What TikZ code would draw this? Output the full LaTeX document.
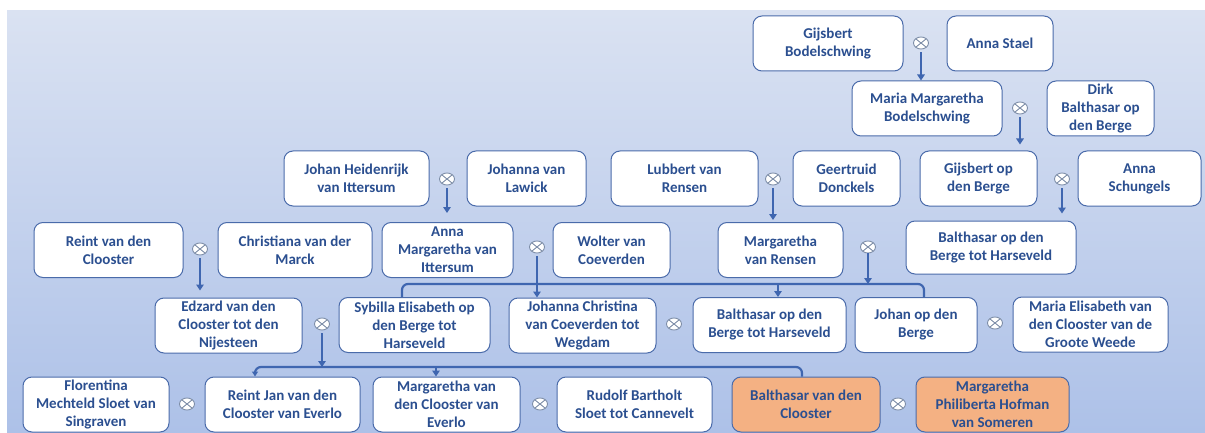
\documentclass[tikz,border=0pt]{standalone}
\usepackage{fontspec}
\setmainfont{Carlito}
\usetikzlibrary{shapes.geometric, arrows.meta}

\definecolor{txtblue}{HTML}{2B4F90}
\definecolor{boxline}{HTML}{4A6BAA}
\definecolor{linkblue}{HTML}{3F66B0}
\definecolor{wedgrey}{HTML}{7F8FA9}
\definecolor{heirorange}{HTML}{F4B183}
\definecolor{bgtop}{HTML}{DAE2F2}
\definecolor{bgbot}{HTML}{A9BEE7}

\tikzstyle{person} = [rectangle, rounded corners=9pt, minimum height=55pt, align=center, draw=boxline, line width=1pt, fill=white, text=txtblue, font=\fontsize{15}{18}\selectfont\bfseries, inner sep=1pt]
\tikzstyle{heir} = [person, fill=heirorange]
\tikzstyle{wed} = [ellipse, minimum width=15pt, minimum height=12pt, inner sep=0pt, draw=wedgrey, line width=0.9pt, fill=white,
    path picture={\draw[wedgrey, line width=0.9pt] (path picture bounding box.south west) -- (path picture bounding box.north east)
                  (path picture bounding box.north west) -- (path picture bounding box.south east);}]
\tikzstyle{arrow} = [linkblue, line width=2.8pt, -{Triangle[length=6pt, width=7.5pt]}, shorten <=3pt]
\tikzstyle{bar} = [linkblue, line width=2.2pt, rounded corners=6pt]

\begin{document}
\begin{tikzpicture}[x=1pt, y=-1pt]

\useasboundingbox (0,0) rectangle (1205,433);
\fill[white] (0,0) rectangle (1205,433);
\shade[top color=bgtop, bottom color=bgbot!92!bgtop] (7,11) rectangle (1205,433);

%% generation 1 and 2 (Bodelschwing)
\node (gijsbertB)	[person, minimum width=150pt] at (828,43.5)	{Gijsbert\\Bodelschwing};
\node (annaStael)	[person, minimum width=106pt] at (1000,43.5)	{Anna Stael};
\node (wedA)		[wed] at (921,43) {};
\node (mariaM)		[person, minimum width=150pt] at (927,108.5)	{Maria Margaretha\\Bodelschwing};
\node (dirk)		[person, minimum width=107pt] at (1100.5,108.5)	{Dirk\\Balthasar op\\den Berge};
\node (wedB)		[wed] at (1020,108) {};

%% generation 3
\node (johanH)		[person, minimum width=145pt] at (356.5,178.5)	{Johan Heidenrijk\\van Ittersum};
\node (johannaL)	[person, minimum width=119pt] at (526.5,178.5)	{Johanna van\\Lawick};
\node (wedC)		[wed] at (447,179) {};
\node (lubbert)		[person, minimum width=147pt] at (684.5,178.5)	{Lubbert van\\Rensen};
\node (geertruid)	[person, minimum width=107pt] at (846.5,178.5)	{Geertruid\\Donckels};
\node (wedD)		[wed] at (773,179) {};
\node (gijsbertOp)	[person, minimum width=117pt] at (978.5,178.5)	{Gijsbert op\\den Berge};
\node (annaS)		[person, minimum width=123pt] at (1139.5,178.5)	{Anna\\Schungels};
\node (wedE)		[wed] at (1062,179) {};

%% generation 4
\node (reint)		[person, minimum width=149pt] at (108.5,250)	{Reint van den\\Clooster};
\node (christiana)	[person, minimum width=154pt] at (295,250)	{Christiana van der\\Marck};
\node (wedF)		[wed] at (200,249) {};
\node (annaMI)		[person, minimum width=131pt] at (447.5,250)	{Anna\\Margaretha van\\Ittersum};
\node (wolter)		[person, minimum width=117pt] at (611.5,250)	{Wolter van\\Coeverden};
\node (wedG)		[wed] at (537,247) {};
\node (margarethaR)	[person, minimum width=125pt] at (780.5,250)	{Margaretha\\van Rensen};
\node (wedH)		[wed] at (868,247) {};
\node (balthasarOp)	[person, minimum width=170pt, minimum height=53pt] at (991,247.5)	{Balthasar op den\\Berge tot Harseveld};

%% generation 5
\node (edzard)		[person, minimum width=147pt] at (228.5,325.5)	{Edzard van den\\Clooster tot den\\Nijesteen};
\node (wedJ)		[wed] at (322,324) {};
\node (sybilla)		[person, minimum width=151pt] at (414.5,325)	{Sybilla Elisabeth op\\den Berge tot\\Harseveld};
\node (johannaC)	[person, minimum width=147pt] at (582.5,325.5)	{Johanna Christina\\van Coeverden tot\\Wegdam};
\node (wedK)		[wed] at (674,324) {};
\node (balthasarOp2)	[person, minimum width=153pt] at (769.5,325)	{Balthasar op den\\Berge tot Harseveld};
\node (johanOp)		[person, minimum width=122pt] at (916,325)	{Johan op den\\Berge};
\node (wedL)		[wed] at (995,323) {};
\node (mariaE)		[person, minimum width=155pt] at (1090.5,324.5)	{Maria Elisabeth van\\den Clooster van de\\Groote Weede};

%% generation 6
\node (florentina)	[person, minimum width=146pt] at (96,404.5)	{Florentina\\Mechteld Sloet van\\Singraven};
\node (wedM)		[wed] at (187,404) {};
\node (reintJan)	[person, minimum width=155pt] at (282.5,404.5)	{Reint Jan van den\\Clooster van Everlo};
\node (margarethaC)	[person, minimum width=147pt] at (446.5,404.5)	{Margaretha van\\den Clooster van\\Everlo};
\node (wedN)		[wed] at (540,404) {};
\node (rudolf)		[person, minimum width=155pt] at (634.5,404.5)	{Rudolf Bartholt\\Sloet tot Cannevelt};
\node (balthasarC)	[heir, minimum width=148pt] at (806,404.5)	{Balthasar van den\\Clooster};
\node (wedP)		[wed] at (898,404) {};
\node (margarethaP)	[heir, minimum width=153pt] at (992.5,404.5)	{Margaretha\\Philiberta Hofman\\van Someren};

\coordinate (barE) at (0,284);
\coordinate (barF) at (0,367);

%% Draw the connectivity.
\draw [arrow] (wedA.south) -- (wedA.south |- mariaM.north);
\draw [arrow, shorten >=6pt] (wedB.south) -- (wedB.south |- gijsbertOp.north);
\draw [arrow, shorten >=9pt] (wedC.south) -- (wedC.south |- annaMI.north);
\draw [arrow, shorten >=2pt] (wedD.south) -- (wedD.south |- margarethaR.north);
\draw [arrow, shorten >=7pt] (wedE.south) -- (wedE.south |- balthasarOp.north);
\draw [arrow, shorten >=7pt] (wedF.south) -- (wedF.south |- edzard.north);

\draw [bar] ([xshift=-12.5pt]sybilla.north) -- ([xshift=-12.5pt]sybilla.north |- barE)
	-- ([xshift=8pt]johanOp.north |- barE) -- ([xshift=8pt]johanOp.north);
\draw [arrow] (wedG.south) -- (wedG.south |- johannaC.north);
\draw [arrow, shorten <=0pt] (wedH.south) -- (wedH.south |- barE);
\draw [arrow, shorten <=0pt] ([xshift=8.5pt]balthasarOp2.north |- barE) -- ([xshift=8.5pt]balthasarOp2.north);

\draw [bar, -{Triangle[length=5pt, width=6pt]}] ([xshift=-4pt]balthasarC.north) -- ([xshift=-4pt]balthasarC.north |- barF)
	-- ([xshift=-27.5pt]reintJan.north |- barF) -- ([xshift=-27.5pt]reintJan.north);
\draw [arrow] (wedJ.south) -- (wedJ.south |- barF);
\draw [arrow, shorten <=0pt] ([xshift=-10.5pt]margarethaC.north |- barF) -- ([xshift=-10.5pt]margarethaC.north);
\end{tikzpicture}
\end{document}
